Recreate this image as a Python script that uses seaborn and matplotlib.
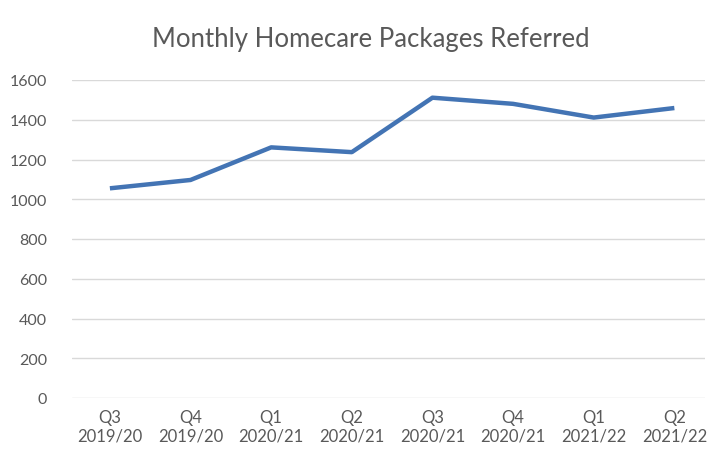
import matplotlib
matplotlib.use("Agg")
import matplotlib.pyplot as plt
import seaborn as sns
import pandas as pd

# ---------------- DATA ----------------
quarters = ["Q3\n2019/20", "Q4\n2019/20", "Q1\n2020/21", "Q2\n2020/21",
            "Q3\n2020/21", "Q4\n2020/21", "Q1\n2021/22", "Q2\n2021/22"]
packages = [1055, 1097, 1261, 1237, 1511, 1480, 1411, 1459]
y_ticks = [0, 200, 400, 600, 800, 1000, 1200, 1400, 1600]

df = pd.DataFrame({"Quarter": quarters, "Packages": packages})

# ---------------- STYLE ----------------
sns.set_style("white")
plt.rcParams["font.family"] = ["Lato", "DejaVu Sans"]
TEXT = "#595959"

fig = plt.figure(figsize=(7.08, 4.56), dpi=100)
ax = fig.add_axes([72 / 708, 57 / 456, (705 - 72) / 708, (399 - 81) / 456])

sns.lineplot(x="Quarter", y="Packages", data=df, sort=False,
             color="#4374B4", linewidth=3.2, ax=ax, solid_capstyle="butt")

ax.set_ylim(0, 1600)
ax.set_yticks(y_ticks)
ax.set_xlim(-0.47, 7.38)
ax.yaxis.grid(True, color="#d9d9d9", linewidth=1)
ax.set_axisbelow(True)
for s in ax.spines.values():
    s.set_visible(False)

ax.tick_params(axis="both", length=0, labelcolor=TEXT)
ax.tick_params(axis="y", pad=18, labelsize=11.5)
ax.tick_params(axis="x", pad=8, labelsize=12)
ax.set_xlabel("")
ax.set_ylabel("")

fig.text(371 / 708, 1 - 40 / 456, "Monthly Homecare Packages Referred",
         ha="center", va="center", fontsize=18.5, color=TEXT)

fig.savefig("out.png", dpi=100, facecolor="white")
